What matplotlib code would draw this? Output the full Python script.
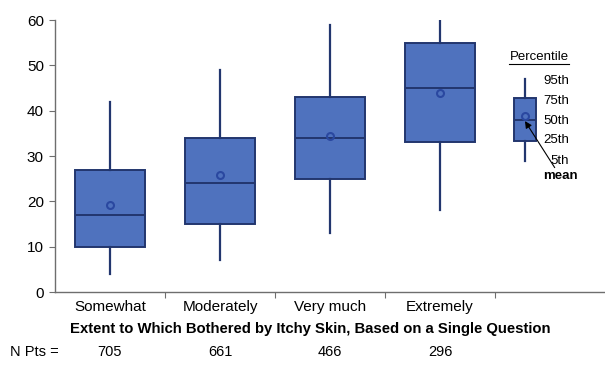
import matplotlib
matplotlib.use("Agg")
import matplotlib.pyplot as plt

plt.rcParams['font.family'] = ['Liberation Sans', 'DejaVu Sans']

# Percentile data
categories = ['Somewhat', 'Moderately', 'Very much', 'Extremely']
p5 = [4, 7, 13, 18]
p25 = [10, 15, 25, 33]
p50 = [17, 24, 34, 45]
p75 = [27, 34, 43, 55]
p95 = [42, 49, 59, 60]
means = [19.3, 25.7, 34.5, 44.0]
n_pts = [705, 661, 466, 296]

# legend (key) box values
key_stats = {'whislo': 29, 'q1': 33.2, 'med': 38, 'q3': 42.9, 'whishi': 47, 'mean': 38.9}
key_labels = ['95th', '75th', '50th', '25th', '5th']
key_y = [46.5, 42.2, 37.8, 33.6, 29.0]

box_fill = '#4f72be'
box_edge = '#22366e'
axis_col = '#6e6e6e'


def px_x(p):
    # pixel column -> category axis units
    return 0.5 + (p - 55) / 110


fig = plt.figure(figsize=(6.05, 3.69), dpi=100)
ax = fig.add_axes([55 / 605, 1 - 292 / 369, 550 / 605, 272 / 369])

stats = []
for i in range(len(categories)):
    stats.append({'whislo': p5[i], 'q1': p25[i], 'med': p50[i], 'q3': p75[i],
                  'whishi': p95[i], 'mean': means[i], 'fliers': []})
key = dict(key_stats, fliers=[])

common = dict(patch_artist=True, showmeans=True, showcaps=False, showfliers=False,
              boxprops=dict(facecolor=box_fill, edgecolor=box_edge, linewidth=1.4),
              whiskerprops=dict(color=box_edge, linewidth=1.6),
              medianprops=dict(color=box_edge, linewidth=1.4),
              meanprops=dict(marker='o', markerfacecolor='none', markeredgecolor='#2a48a0',
                             markersize=5, markeredgewidth=1.5),
              manage_ticks=False)

positions = list(range(1, len(categories) + 1))
ax.bxp(stats, positions=positions, widths=0.63, **common)
ax.bxp([key], positions=[px_x(525)], widths=0.2, **common)

ax.set_xlim(0.5, 5.5)
ax.set_ylim(0, 60)
ax.set_yticks(range(0, 61, 10))

# boundaries as major ticks, labels on minor ticks
ax.set_xticks([1.5, 2.5, 3.5, 4.5])
ax.set_xticklabels([])
ax.set_xticks(positions, minor=True)
ax.set_xticklabels(categories, minor=True)
ax.tick_params(axis='x', which='minor', length=0, pad=6, labelsize=11)
ax.tick_params(axis='x', which='major', length=4, color=axis_col, direction='out')
ax.tick_params(axis='y', length=4, color=axis_col, labelsize=11, pad=4)

for s in ['top', 'right']:
    ax.spines[s].set_visible(False)
for s in ['left', 'bottom']:
    ax.spines[s].set_color(axis_col)
    ax.spines[s].set_linewidth(1.0)

# key text
ax.text(px_x(539), 51.8, 'Percentile', ha='center', va='center', fontsize=9.5)
ax.plot([px_x(509), px_x(569)], [50.4, 50.4], color='black', lw=0.8)
for lab, yy in zip(key_labels, key_y):
    ax.text(px_x(569), yy, lab, ha='right', va='center', fontsize=9.5)
ax.annotate('mean', xy=(px_x(525), 37.7), xytext=(px_x(543), 25.5),
            ha='left', va='center', fontsize=9.5, fontweight='bold',
            arrowprops=dict(arrowstyle='-|>', color='black', lw=0.8, mutation_scale=10,
                            shrinkA=0, shrinkB=0))

fig.text(310 / 605, 1 - 329 / 369, 'Extent to Which Bothered by Itchy Skin, Based on a Single Question',
         ha='center', va='center', fontsize=10.7, fontweight='bold')

fig.text(10 / 605, 1 - 352 / 369, 'N Pts =', ha='left', va='center', fontsize=10.5)
for i, n in enumerate(n_pts):
    ax.text(positions[i], -(352 - 292) / 272, str(n), ha='center', va='center', fontsize=10.5,
            transform=ax.get_xaxis_transform(), clip_on=False)

fig.savefig('out.png', dpi=100)
